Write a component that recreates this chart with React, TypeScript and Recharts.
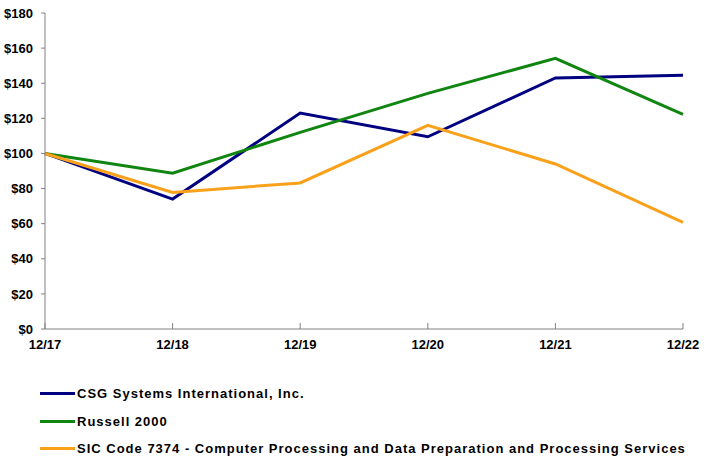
import { LineChart, Line, XAxis, YAxis } from 'recharts';

const years = ['12/17', '12/18', '12/19', '12/20', '12/21', '12/22'];
const csg = [100, 74, 123, 109.5, 143, 144.5];
const russell = [100, 88.7, 112, 134.2, 154.2, 122.3];
const sic = [100, 77.8, 83.2, 116, 94, 60.8];
const yTicks = [0, 20, 40, 60, 80, 100, 120, 140, 160, 180];

const series = [
  { key: 'csg', name: 'CSG Systems International, Inc.', color: '#000080', values: csg },
  { key: 'russell', name: 'Russell 2000', color: '#108510', values: russell },
  {
    key: 'sic',
    name: 'SIC Code 7374 - Computer Processing and Data Preparation and Processing Services',
    color: '#f9a11b',
    values: sic,
  },
];

const data = years.map((year, i) => {
  const row: any = { year };
  series.forEach((s) => {
    row[s.key] = s.values[i];
  });
  return row;
});

const font = '"Liberation Sans", Arial, sans-serif';

// x ticks point up into the plot, labels sit below the axis
const XTick = ({ x, y, payload }: any) => (
  <g>
    <line x1={x} x2={x} y1={y - 6} y2={y} stroke="#808080" strokeWidth={1} />
    <text x={x} y={y + 20} textAnchor="middle" fontFamily={font} fontSize={13} fontWeight="bold" fill="#000">
      {payload.value}
    </text>
  </g>
);

export default function App() {
  return (
    <div style={{ position: 'absolute', left: 0, top: 0, width: 710, height: 463, background: '#fff' }}>
      <LineChart width={710} height={463} data={data} margin={{ top: 13, right: 27, bottom: 104, left: 0 }}>
        <XAxis
          dataKey="year"
          height={30}
          tickSize={0}
          tickMargin={0}
          tickLine={false}
          axisLine={{ stroke: '#808080' }}
          tick={<XTick />}
          interval={0}
        />
        <YAxis
          width={45}
          domain={[0, 180]}
          ticks={yTicks}
          tickSize={4}
          tickMargin={8}
          interval={0}
          tickFormatter={(v) => `$${v}`}
          axisLine={{ stroke: '#808080' }}
          tickLine={{ stroke: '#808080' }}
          tick={{ fill: '#000', fontSize: 13, fontWeight: 'bold', fontFamily: font }}
        />
        {series.map((s) => (
          <Line
            key={s.key}
            type="linear"
            dataKey={s.key}
            name={s.name}
            stroke={s.color}
            strokeWidth={3}
            dot={false}
            isAnimationActive={false}
          />
        ))}
      </LineChart>
      <div
        style={{
          position: 'absolute',
          left: 40,
          top: 380,
          fontFamily: font,
          fontSize: 13,
          fontWeight: 'bold',
          letterSpacing: 1,
        }}
      >
        {series.map((s) => (
          <div key={s.key} style={{ display: 'flex', alignItems: 'center', height: 27.5, whiteSpace: 'nowrap' }}>
            <span style={{ display: 'inline-block', width: 35, height: 3, background: s.color, marginRight: 2 }} />
            <span>{s.name}</span>
          </div>
        ))}
      </div>
    </div>
  );
}
